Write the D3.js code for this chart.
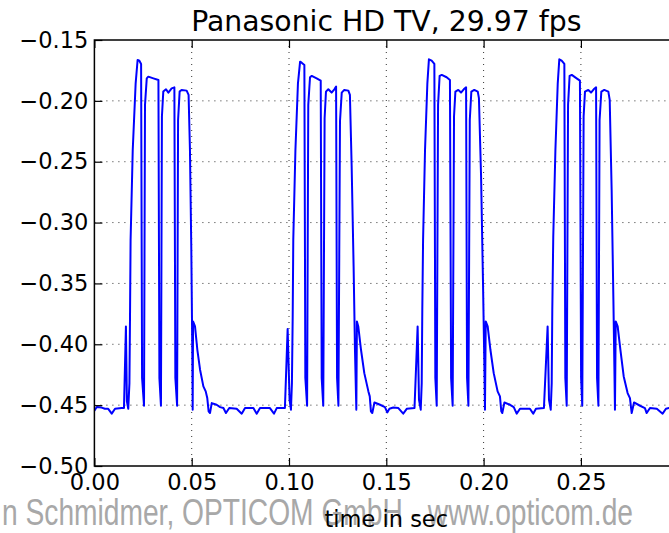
<!DOCTYPE html>
<html><head><meta charset="utf-8">
<script src="https://cdn.jsdelivr.net/npm/d3@7"></script>
<style>html,body{margin:0;padding:0;background:#fff;overflow:hidden}</style>
</head><body><svg id="c" width="669" height="533"></svg>
<script>
const titleText = "Panasonic HD TV, 29.97 fps";
const xLabelText = "time in sec";
const watermarkText = "n Schmidmer, OPTICOM GmbH - www.opticom.de";
const xTicks = [0.00, 0.05, 0.10, 0.15, 0.20, 0.25];
const yTicks = [-0.15, -0.20, -0.25, -0.30, -0.35, -0.40, -0.45, -0.50];
const timeSec = [
0.0000,0.0012,0.0037,0.0054,0.0071,0.0089,0.0106,0.0140,
0.0152,0.0162,0.0167,0.0174,0.0180,0.0183,0.0186,0.0197,0.0212,0.0222,0.0231,0.0240,
0.0245,0.0255,0.0260,0.0269,0.0277,0.0303,0.0329,0.0334,0.0342,0.0347,0.0354,0.0368,
0.0380,0.0397,0.0411,0.0416,0.0425,0.0430,0.0438,0.0448,0.0474,0.0484,0.0491,0.0498,
0.0503,0.0505,0.0507,0.0517,0.0529,0.0543,0.0560,0.0572,0.0580,0.0587,0.0594,0.0603,
0.0628,0.0646,
0.0663,0.0676,0.0693,0.0731,0.0757,0.0774,0.0817,0.0834,0.0851,0.0902,0.0923,0.0937,0.0979,
0.0993,0.1003,0.1010,0.1015,0.1019,0.1022,0.1033,0.1046,0.1057,0.1065,0.1079,0.1084,
0.1093,0.1099,0.1108,0.1117,0.1142,0.1163,0.1168,0.1176,0.1183,0.1190,0.1202,0.1219,
0.1233,0.1242,0.1247,0.1254,0.1262,0.1271,0.1284,0.1305,0.1313,0.1322,0.1332,0.1339,
0.1346,0.1349,0.1356,0.1370,0.1387,0.1408,0.1415,0.1421,0.1428,0.1439,0.1468,0.1493,
0.1505,0.1516,0.1536,0.1562,0.1587,0.1605,0.1645,
0.1661,0.1668,0.1677,0.1682,0.1685,0.1689,0.1699,0.1711,0.1719,0.1733,0.1747,0.1752,
0.1759,0.1766,0.1774,0.1785,0.1810,0.1827,0.1833,0.1841,0.1848,0.1855,0.1870,0.1884,
0.1898,0.1910,0.1915,0.1922,0.1929,0.1937,0.1952,0.1970,0.1976,0.1987,0.1997,0.2004,
0.2007,0.2011,0.2021,0.2035,0.2052,0.2072,0.2084,0.2091,0.2096,0.2107,0.2136,0.2155,
0.2170,0.2187,0.2238,0.2255,0.2269,0.2310,
0.2329,0.2336,0.2345,0.2350,0.2353,0.2358,0.2369,0.2381,0.2389,0.2401,0.2415,0.2420,
0.2427,0.2434,0.2442,0.2453,0.2478,0.2495,0.2501,0.2507,0.2514,0.2521,0.2538,0.2552,
0.2566,0.2578,0.2583,0.2590,0.2596,0.2605,0.2620,0.2641,0.2648,0.2658,0.2667,0.2672,
0.2675,0.2679,0.2689,0.2703,0.2720,0.2740,0.2752,0.2761,0.2773,0.2804,0.2829,
0.2838,0.2855,0.2890,0.2920,0.2937,0.2953,0.3000
];
const level = [
-0.4545,-0.4515,-0.4520,-0.4530,-0.4530,-0.4570,-0.4530,-0.4524,
-0.4524,-0.3853,-0.4469,-0.4530,-0.4319,-0.3772,-0.3142,-0.2403,-0.1856,-0.1664,-0.1670,-0.1697,
-0.4277,-0.4505,-0.2033,-0.1815,-0.1801,-0.1815,-0.1828,-0.4277,-0.4505,-0.2129,-0.1924,-0.1905,
-0.1932,-0.1897,-0.1889,-0.4277,-0.4505,-0.2157,-0.1924,-0.1910,-0.1916,-0.1951,-0.2403,-0.3224,
-0.4045,-0.4537,-0.3812,-0.3853,-0.4045,-0.4209,-0.4346,-0.4387,-0.4442,-0.4551,-0.4565,-0.4483,
-0.4497,-0.4516,
-0.4524,-0.4565,-0.4524,-0.4530,-0.4570,-0.4524,-0.4524,-0.4570,-0.4524,-0.4524,-0.4570,-0.4524,-0.4524,
-0.3875,-0.4456,-0.4537,-0.4319,-0.3772,-0.3142,-0.2403,-0.1856,-0.1678,-0.1686,-0.1705,-0.4277,
-0.4505,-0.2033,-0.1806,-0.1795,-0.1815,-0.1834,-0.4277,-0.4505,-0.2143,-0.1924,-0.1905,-0.1932,
-0.1905,-0.1883,-0.4277,-0.4505,-0.2170,-0.1932,-0.1910,-0.1916,-0.1951,-0.2540,-0.3361,-0.4045,
-0.4537,-0.3812,-0.3853,-0.4045,-0.4237,-0.4387,-0.4428,-0.4551,-0.4565,-0.4478,-0.4497,-0.4516,
-0.4560,-0.4530,-0.4520,-0.4524,-0.4570,-0.4530,-0.4524,
-0.3853,-0.4456,-0.4537,-0.4319,-0.3717,-0.3142,-0.2403,-0.1856,-0.1659,-0.1670,-0.1697,-0.4277,
-0.4505,-0.2033,-0.1795,-0.1787,-0.1806,-0.1828,-0.4277,-0.4505,-0.2129,-0.1924,-0.1910,-0.1932,
-0.1905,-0.1889,-0.4277,-0.4505,-0.2157,-0.1924,-0.1910,-0.1924,-0.1978,-0.2622,-0.3498,-0.4182,
-0.4537,-0.3812,-0.3853,-0.4045,-0.4237,-0.4387,-0.4428,-0.4551,-0.4565,-0.4478,-0.4497,-0.4516,
-0.4570,-0.4530,-0.4530,-0.4570,-0.4530,-0.4524,
-0.3853,-0.4456,-0.4537,-0.4319,-0.3717,-0.3115,-0.2403,-0.1856,-0.1659,-0.1670,-0.1697,-0.4277,
-0.4505,-0.2033,-0.1795,-0.1787,-0.1815,-0.1834,-0.4277,-0.4505,-0.2129,-0.1924,-0.1910,-0.1932,
-0.1905,-0.1889,-0.4277,-0.4505,-0.2157,-0.1924,-0.1910,-0.1924,-0.1992,-0.2731,-0.3634,-0.4182,
-0.4537,-0.3812,-0.3853,-0.4045,-0.4264,-0.4401,-0.4442,-0.4565,-0.4478,-0.4505,-0.4524,
-0.4565,-0.4524,-0.4530,-0.4570,-0.4530,-0.4524,-0.4530
];

const svg = d3.select("#c");
const L = 94.4, R = 678.2, T = 40, B = 466;
const x = d3.scaleLinear().domain([0, 0.3]).range([L, R]);
const y = d3.scaleLinear().domain([-0.5, -0.15]).range([B, T]);
const FONT = "DejaVu Sans, sans-serif";
const fmt = d => d3.format(".2f")(d).replace("-", "\u2212");

// watermark (behind)
svg.append("text").attr("x", 2).attr("y", 525)
  .attr("font-family", "Liberation Sans Narrow, Liberation Sans, sans-serif")
  .attr("font-size", 37).attr("fill", "#a8a8a8")
  .attr("textLength", 631).attr("lengthAdjust", "spacingAndGlyphs")
  .text(watermarkText);

// grid
const grid = svg.append("g").attr("stroke", "#000").attr("stroke-width", 1)
  .attr("stroke-dasharray", "1,5").attr("opacity", 0.8);
grid.selectAll("line.gx").data(xTicks.slice(1)).join("line")
  .attr("x1", d => x(d)).attr("x2", d => x(d)).attr("y1", T).attr("y2", B);
grid.selectAll("line.gy").data(yTicks.slice(1, -1)).join("line")
  .attr("x1", L).attr("x2", R).attr("y1", d => y(d)).attr("y2", d => y(d));

// clip
svg.append("clipPath").attr("id", "clip").append("rect")
  .attr("x", L).attr("y", T).attr("width", R - L).attr("height", B - T);

const pts = timeSec.map((t, i) => [t, level[i]]);
svg.append("path").datum(pts).attr("clip-path", "url(#clip)")
  .attr("fill", "none").attr("stroke", "#0000ff").attr("stroke-width", 2)
  .attr("stroke-linejoin", "round")
  .attr("d", d3.line().x(d => x(d[0])).y(d => y(d[1])));

// axes (ticks inside)
const xAxis = d3.axisBottom(x).tickValues(xTicks).tickFormat(fmt).tickSizeInner(-8).tickSizeOuter(0);
const gx = svg.append("g").attr("transform", `translate(0,${B})`).call(xAxis);
const xAxisTop = d3.axisTop(x).tickValues(xTicks).tickFormat("").tickSizeInner(-8).tickSizeOuter(0);
const gxt = svg.append("g").attr("transform", `translate(0,${T})`).call(xAxisTop);
const yAxis = d3.axisLeft(y).tickValues(yTicks).tickFormat(fmt).tickSizeInner(-8).tickSizeOuter(0).tickPadding(5);
const gy = svg.append("g").attr("transform", `translate(${L},0)`).call(yAxis);
[gx, gxt, gy].forEach(g => {
  g.select(".domain").remove();
  g.selectAll(".tick line").attr("stroke", "#000").attr("stroke-width", 1.2);
  g.selectAll("text").attr("font-family", FONT).attr("font-size", 22.5).attr("fill", "#000");
});
gx.selectAll(".tick text").attr("dy", "0.71em").attr("y", 8);
gy.selectAll(".tick text").attr("x", -6);

// frame
svg.append("rect").attr("x", L).attr("y", T).attr("width", R - L).attr("height", B - T)
  .attr("fill", "none").attr("stroke", "#000").attr("stroke-width", 1.5);

// title
svg.append("text").attr("x", (L + R) / 2).attr("y", 31).attr("text-anchor", "middle")
  .attr("font-family", FONT).attr("font-size", 28.3).attr("fill", "#000").text(titleText);

// x label
svg.append("text").attr("x", (L + R) / 2).attr("y", 527).attr("text-anchor", "middle")
  .attr("font-family", FONT).attr("font-size", 22.5).attr("fill", "#000").text(xLabelText);
</script>
</body></html>
